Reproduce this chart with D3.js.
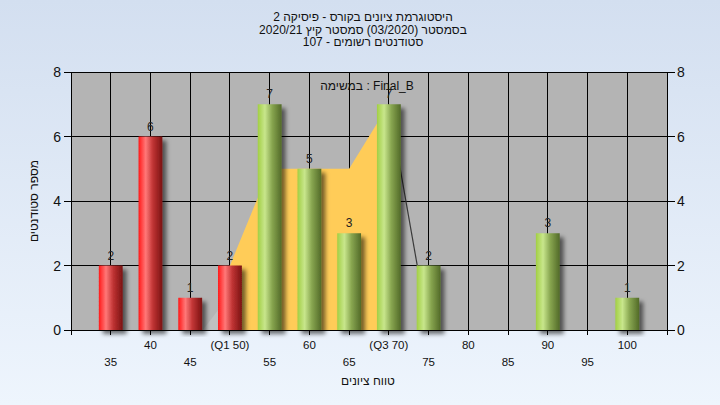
<!DOCTYPE html>
<html><head><meta charset="utf-8">
<script src="https://cdn.jsdelivr.net/npm/d3@7"></script>
<style>html,body{margin:0;padding:0;}svg{display:block;}</style>
</head><body>
<script>
const categories = [35,40,45,50,55,60,65,70,75,80,85,90,95,100];
const counts     = [2, 6, 1, 2, 7, 5, 3, 7, 2, 0, 0, 3, 0, 1];
const tickLabels = ["35","40","45","(Q1 50)","55","60","65","(Q3 70)","75","80","85","90","95","100"];
const failLimit = 50;
const yTicks = [0,2,4,6,8];
const quartileAreaX = [50,50,55,65,70,70];
const quartileAreaY = [0, 2, 5, 5, 7, 0];
const lowAreaX = [46.6,50,50];
const lowAreaY = [0,1.1,0];
const tailLineX = [70,75];
const tailLineY = [7,0];
const titleLines = ["היסטוגרמת ציונים בקורס - פיסיקה 2","בסמסטר  (03/2020)  סמסטר קיץ  2020/21","סטודנטים רשומים - 107"];
const taskLabel = "במשימה : Final_B";
const yTitle = "מספר סטודנטים";
const xTitle = "טווח ציונים";

const W=720,H=405;
const svg=d3.select("body").append("svg").attr("width",W).attr("height",H);
const defs=svg.append("defs");
const bg=defs.append("linearGradient").attr("id","bg").attr("x1",0).attr("y1",0).attr("x2",0).attr("y2",1);
bg.append("stop").attr("offset","0%").attr("stop-color","#d3dff0");
bg.append("stop").attr("offset","100%").attr("stop-color","#eef5fd");
function cyl(id,stops){const g=defs.append("linearGradient").attr("id",id).attr("x1",0).attr("y1",0).attr("x2",1).attr("y2",0);
 stops.forEach(s=>g.append("stop").attr("offset",s[0]).attr("stop-color",s[1]));}
cyl("red",[["0%","#ff1818"],["30%","#ff7878"],["60%","#c03434"],["100%","#7a1212"]]);
cyl("green",[["0%","#a2cf44"],["30%","#c8e68c"],["60%","#88a650"],["100%","#526a28"]]);
const f=defs.append("filter").attr("id","sh").attr("x","-20%").attr("y","-20%").attr("width","160%").attr("height","140%");
f.append("feDropShadow").attr("dx",4).attr("dy",4).attr("stdDeviation",2).attr("flood-color","#000").attr("flood-opacity",0.55);

svg.append("rect").attr("width",W).attr("height",H).attr("fill","url(#bg)");

const x=d3.scaleLinear().domain([30,105]).range([71,667]);
const y=d3.scaleLinear().domain([0,8]).range([330,72]);
const font="'Liberation Sans', Arial, sans-serif";

svg.append("rect").attr("x",x(30)).attr("y",y(8)).attr("width",x(105)-x(30)).attr("height",y(0)-y(8)).attr("fill","#b4b4b4");

const lineGen=d3.line();
svg.append("path").attr("d",lineGen(lowAreaX.map((v,i)=>[x(v),y(lowAreaY[i])]))+"Z").attr("fill","#bfbfbf");

// grid
const g=svg.append("g").attr("stroke","#000").attr("stroke-width",1).attr("shape-rendering","crispEdges");
categories.forEach(c=>g.append("line").attr("x1",x(c)).attr("x2",x(c)).attr("y1",y(8)).attr("y2",y(0)+5));
yTicks.forEach(t=>g.append("line").attr("x1",x(30)-7).attr("x2",x(105)+8).attr("y1",y(t)).attr("y2",y(t)));
[30,105].forEach(c=>g.append("line").attr("x1",x(c)).attr("x2",x(c)).attr("y1",y(8)).attr("y2",y(0)+5));

svg.append("path").attr("d",lineGen(quartileAreaX.map((v,i)=>[x(v),y(quartileAreaY[i])]))+"Z").attr("fill","#ffcc58");
svg.append("path").attr("d",lineGen(tailLineX.map((v,i)=>[x(v),y(tailLineY[i])]))).attr("stroke","#3a3a3a").attr("stroke-width",1.2).attr("fill","none");

const bw=(x(5)-x(0))*0.6;
const data=categories.map((c,i)=>({c,v:counts[i]})).filter(d=>d.v>0);
svg.append("g").selectAll("rect").data(data).join("rect")
 .attr("x",d=>x(d.c)-bw/2).attr("width",bw).attr("y",d=>y(d.v)).attr("height",d=>y(0)-y(d.v))
 .attr("fill",d=>d.c<=failLimit?"url(#red)":"url(#green)").attr("filter","url(#sh)");

svg.append("g").selectAll("text").data(data).join("text")
 .attr("x",d=>x(d.c)).attr("y",d=>y(d.v)-6).attr("text-anchor","middle")
 .attr("font-family",font).attr("font-size",12).attr("fill","#222").text(d=>d.v);

// x labels
svg.append("g").selectAll("text").data(categories).join("text")
 .attr("x",d=>x(d)).attr("y",(d,i)=>i%2===0?366:349).attr("text-anchor","middle")
 .attr("font-family",font).attr("font-size",11.5).attr("fill","#111").text((d,i)=>tickLabels[i]);

// y labels
svg.append("g").selectAll("text").data(yTicks).join("text")
 .attr("x",61).attr("y",d=>y(d)+5).attr("text-anchor","end")
 .attr("font-family",font).attr("font-size",14).attr("fill","#111").text(d=>d);
svg.append("g").selectAll("text").data(yTicks).join("text")
 .attr("x",677).attr("y",d=>y(d)+5).attr("text-anchor","start")
 .attr("font-family",font).attr("font-size",14).attr("fill","#111").text(d=>d);

titleLines.forEach((t,i)=>svg.append("text").attr("x",363).attr("y",21+i*12.5).attr("text-anchor","middle")
 .attr("direction","rtl").attr("font-family",font).attr("font-size",12).attr("fill","#111").text(t));

svg.append("text").attr("x",367).attr("y",90).attr("text-anchor","middle").attr("font-family",font)
 .attr("font-size",12).attr("fill","#111").text(taskLabel);

svg.append("text").attr("transform","translate(38,201) rotate(-90)").attr("text-anchor","middle").attr("direction","rtl")
 .attr("font-family",font).attr("font-size",12).attr("fill","#111").text(yTitle);
svg.append("text").attr("x",368).attr("y",385).attr("text-anchor","middle").attr("direction","rtl")
 .attr("font-family",font).attr("font-size",12).attr("fill","#111").text(xTitle);
</script>
</body></html>
